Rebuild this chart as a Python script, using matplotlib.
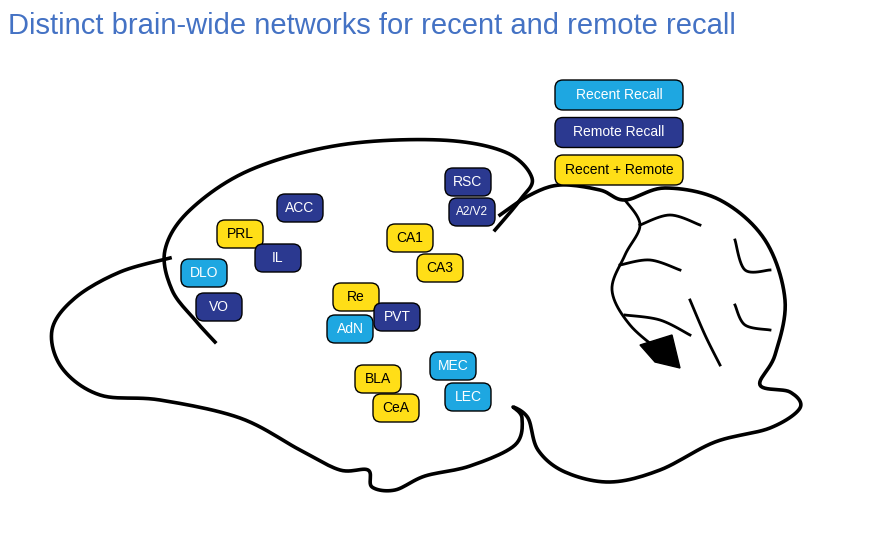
import numpy as np
import matplotlib.pyplot as plt
from matplotlib.patches import FancyBboxPatch, Polygon

# regions and their network
regions = ['RSC', 'A2/V2', 'ACC', 'PRL', 'IL', 'DLO', 'VO', 'CA1', 'CA3',
           'Re', 'PVT', 'AdN', 'MEC', 'LEC', 'BLA', 'CeA']
groups = ['remote', 'remote', 'remote', 'both', 'remote', 'recent', 'remote', 'both', 'both',
          'both', 'remote', 'recent', 'recent', 'recent', 'both', 'both']
legend_labels = ['Recent Recall', 'Remote Recall', 'Recent + Remote']
legend_groups = ['recent', 'remote', 'both']

# box centres in pixel coords
reg_x = [468, 472, 300, 240, 278, 204, 219, 410, 440, 356, 397, 350, 453, 468, 378, 396]
reg_y = [182, 212, 208, 234, 258, 273, 307, 238, 268, 297, 317, 329, 366, 397, 379, 408]

fill = {'recent': '#1ea7e1', 'remote': '#2b3990', 'both': '#ffde17'}
txt = {'recent': 'white', 'remote': 'white', 'both': 'black'}


def smooth(pts, n=12, closed=False):
    p = np.array(pts, float)
    if closed:
        p = np.vstack([p[-1], p, p[0], p[1]])
    else:
        p = np.vstack([p[0], p, p[-1]])
    out = []
    for i in range(1, len(p) - 2):
        p0, p1, p2, p3 = p[i - 1], p[i], p[i + 1], p[i + 2]
        for t in np.linspace(0, 1, n, endpoint=False):
            out.append(0.5 * ((2 * p1) + (-p0 + p2) * t + (2 * p0 - 5 * p1 + 4 * p2 - p3) * t * t
                              + (-p0 + 3 * p1 - 3 * p2 + p3) * t ** 3))
    out.append(p[-2])
    return np.array(out)


fig = plt.figure(figsize=(8.74, 5.36), dpi=100)
ax = fig.add_axes([0, 0, 1, 1])
ax.set_xlim(0, 874)
ax.set_ylim(536, 0)
ax.axis('off')

lw = 2.6
# cortex top and frontal edge
c = smooth([(495, 230), (520, 200), (532, 178), (505, 152), (440, 140), (340, 145),
            (250, 170), (190, 210), (165, 250), (172, 290), (195, 320), (215, 342)])
ax.plot(c[:, 0], c[:, 1], color='black', lw=lw)
# outer contour: olfactory bulb, base, brainstem, cerebellum
o = smooth([(170, 258), (120, 272), (75, 298), (52, 330), (62, 368), (100, 395), (160, 400),
            (240, 418), (300, 450), (340, 470), (368, 470), (372, 487), (395, 490), (425, 476),
            (470, 466), (515, 445), (522, 418), (513, 407), (528, 418), (538, 450), (565, 472),
            (610, 482), (660, 470), (715, 442), (770, 428), (800, 408), (790, 392), (760, 385),
            (775, 355), (785, 300), (765, 240), (720, 200), (665, 188), (625, 200),
            (600, 190), (560, 185), (530, 195), (500, 215)])
ax.plot(o[:, 0], o[:, 1], color='black', lw=lw)
# cerebellum folds
for f in [[(625, 200), (640, 225), (625, 255), (612, 290), (630, 325), (665, 355)],
          [(640, 225), (670, 215), (700, 225)],
          [(620, 265), (650, 260), (680, 270)],
          [(625, 315), (660, 320), (690, 335)],
          [(735, 240), (745, 270), (770, 270)],
          [(735, 305), (745, 325), (770, 330)],
          [(690, 300), (705, 335), (720, 365)]]:
    s = smooth(f)
    ax.plot(s[:, 0], s[:, 1], color='black', lw=2)
ax.add_patch(Polygon([(640, 345), (672, 335), (680, 368), (655, 362)], closed=True, color='black'))

def box(x, y, w, h, label, g, fs):
    ax.add_patch(FancyBboxPatch((x - w / 2, y - h / 2), w, h,
                                boxstyle='round,pad=0,rounding_size=8',
                                fc=fill[g], ec='black', lw=1, zorder=3))
    ax.text(x, y, label, ha='center', va='center', color=txt[g], fontsize=fs,
            family='Liberation Sans', zorder=4)

for lab, g, x, y in zip(regions, groups, reg_x, reg_y):
    box(x, y, 46, 28, lab, g, 8.5 if lab == 'A2/V2' else 10)

for i, (lab, g) in enumerate(zip(legend_labels, legend_groups)):
    box(619, 95 + i * 37.5, 128, 30, lab, g, 10)

ax.text(8, 26, 'Distinct brain-wide networks for recent and remote recall',
        ha='left', va='center', color='#4472c4', fontsize=21, family='Liberation Sans')

fig.savefig('out.png', dpi=100)
